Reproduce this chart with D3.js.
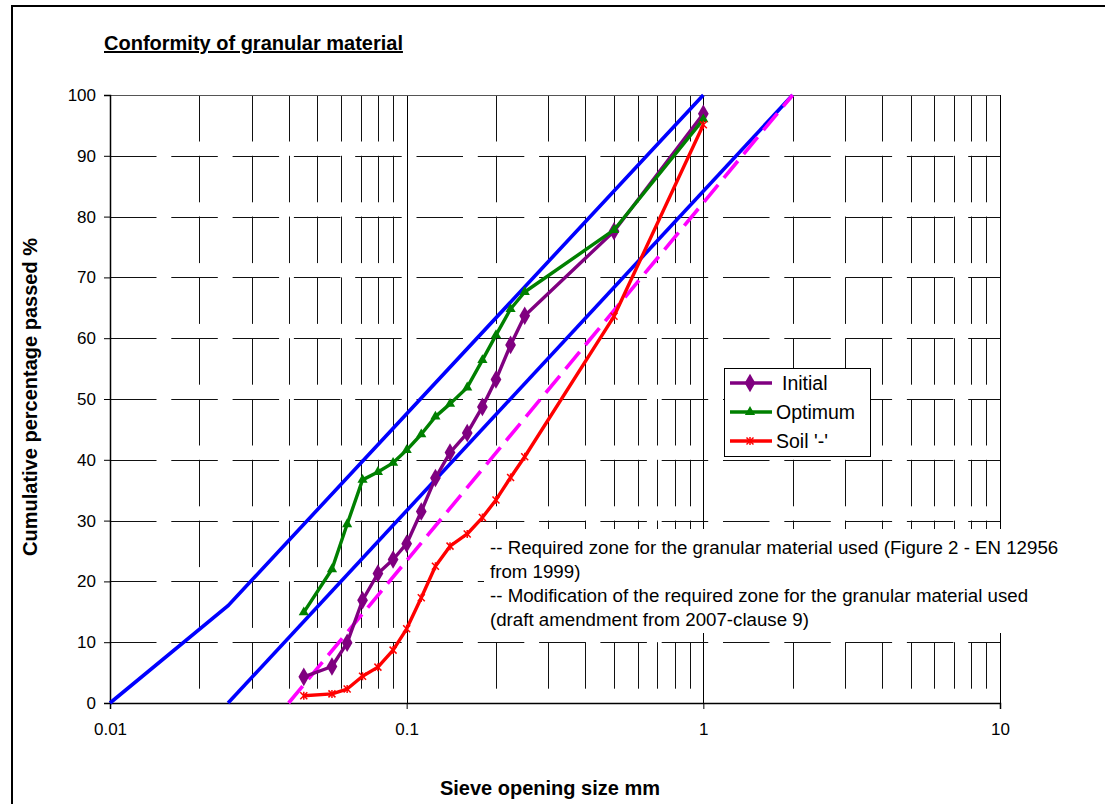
<!DOCTYPE html>
<html><head><meta charset="utf-8">
<script src="https://cdn.jsdelivr.net/npm/d3@7"></script>
<style>
html,body{margin:0;padding:0;background:#fff;}
svg{display:block;font-family:"Liberation Sans",Arial,sans-serif;}
</style></head>
<body>
<svg id="c" width="1105" height="804"></svg>
<script>
// ---- data ----
const sieves   = [0.045,0.056,0.063,0.071,0.08,0.09,0.1,0.112,0.125,0.14,0.16,0.18,0.2,0.224,0.25,0.5,1];
const initial  = [4.3,6.0,9.9,16.9,21.3,23.6,26.2,31.5,37.0,41.2,44.4,48.7,53.2,58.9,63.7,77.6,96.9];
const optimum  = [14.9,22.0,29.4,36.7,38.0,39.5,41.6,44.2,47.1,49.2,51.9,56.4,60.5,64.8,67.6,77.8,96.0];
const soil     = [1.2,1.5,2.3,4.4,5.9,8.7,12.2,17.3,22.5,25.8,27.8,30.5,33.4,37.1,40.5,63.6,95.1];
const seriesNames = ["Initial","Optimum","Soil '-'"];

const zoneUpperX = [0.01,0.025,1];   const zoneUpperY = [0,16,100];
const zoneLowerX = [0.025,2];        const zoneLowerY = [0,100];
const modZoneX   = [0.04,2];         const modZoneY   = [0,100];

const xTickLabels = ["0.01","0.1","1","10"];
const yTicks = [0,10,20,30,40,50,60,70,80,90,100];
const titleText = "Conformity of granular material";
const xTitle = "Sieve opening size mm";
const yTitle = "Cumulative percentage passed %";
const noteLines = ["-- Required zone for the granular material used (Figure 2 - EN 12956",
                   "from 1999)",
                   "-- Modification of the required zone for the granular material used",
                   "(draft amendment from 2007-clause 9)"];

// ---- layout ----
const svg = d3.select("#c");
const L=110, R=1000, T=95, B=703;
const x = d3.scaleLog().domain([0.01,10]).range([L,R]);
const y = d3.scaleLinear().domain([0,100]).range([B,T]);

// outer frame
svg.append("rect").attr("x",12).attr("y",6).attr("width",1200).attr("height",900)
  .attr("fill","none").attr("stroke","#000").attr("stroke-width",2);

// title
svg.append("text").attr("x",104).attr("y",50).attr("font-size",20).attr("font-weight","bold")
  .attr("text-decoration","underline").text(titleText);

// gridlines
const g = svg.append("g");
const minorX = [];
for (const dec of [0.01,0.1,1]) for (let k=2;k<=9;k++) minorX.push(+(dec*k).toPrecision(3));
const majorX = [0.1,1,10];
g.selectAll(".vmin").data(minorX).join("line")
  .attr("x1",d=>Math.round(x(d))+0.5).attr("x2",d=>Math.round(x(d))+0.5)
  .attr("y1",T).attr("y2",B)
  .attr("stroke","#111").attr("stroke-width",1).attr("stroke-dasharray","46.5 14.3");
g.selectAll(".vmaj").data(majorX).join("line")
  .attr("x1",d=>Math.round(x(d))+0.5).attr("x2",d=>Math.round(x(d))+0.5)
  .attr("y1",T).attr("y2",B).attr("stroke","#000").attr("stroke-width",1);
g.selectAll(".hgrid").data(yTicks.filter(v=>v>0&&v<100)).join("line")
  .attr("x1",L).attr("x2",R)
  .attr("y1",d=>Math.round(y(d))+0.5).attr("y2",d=>Math.round(y(d))+0.5)
  .attr("stroke","#111").attr("stroke-width",1).attr("stroke-dasharray","46.5 14.8");
g.append("line").attr("x1",L).attr("x2",R).attr("y1",Math.round(y(100))+0.5).attr("y2",Math.round(y(100))+0.5)
  .attr("stroke","#555").attr("stroke-width",1);

// axes
const yAxis = svg.append("g").attr("transform",`translate(${L},0)`)
  .call(d3.axisLeft(y).tickValues(yTicks).tickSize(6).tickPadding(8).tickFormat(d3.format("d")));
yAxis.select(".domain").attr("stroke","#000").attr("stroke-width",1.5);
yAxis.selectAll("text").attr("font-size",17).attr("font-family","Liberation Sans, Arial, sans-serif").attr("fill","#000");

const xAxis = svg.append("g").attr("transform",`translate(0,${B})`)
  .call(d3.axisBottom(x).tickValues([0.01,0.1,1,10]).tickSize(6).tickPadding(14)
        .tickFormat((d,i)=>xTickLabels[i]));
xAxis.select(".domain").attr("stroke","#000").attr("stroke-width",1.5);
xAxis.selectAll("text").attr("font-size",17).attr("font-family","Liberation Sans, Arial, sans-serif").attr("fill","#000");

// axis titles
svg.append("text").attr("x",550).attr("y",795).attr("text-anchor","middle")
  .attr("font-size",20).attr("font-weight","bold").text(xTitle);
svg.append("text").attr("transform","translate(37,397) rotate(-90)").attr("text-anchor","middle")
  .attr("font-size",20).attr("font-weight","bold").text(yTitle);

// zone lines
const line = d3.line().x(d=>x(d[0])).y(d=>y(d[1]));
const zip = (a,b)=>a.map((v,i)=>[v,b[i]]);
svg.append("path").attr("d",line(zip(zoneUpperX,zoneUpperY))).attr("fill","none")
  .attr("stroke","#0000FF").attr("stroke-width",3.6);
svg.append("path").attr("d",line(zip(zoneLowerX,zoneLowerY))).attr("fill","none")
  .attr("stroke","#0000FF").attr("stroke-width",3.6);
svg.append("path").attr("d",line(zip(modZoneX,modZoneY))).attr("fill","none")
  .attr("stroke","#FF00FF").attr("stroke-width",3.6).attr("stroke-dasharray","22 9");

// series
const colors = ["#800080","#008000","#FF0000"];
const values = [initial, optimum, soil];
const diamond = d3.symbol().type(d3.symbolDiamond).size(100);
const triangle = d3.symbol().type(d3.symbolTriangle).size(45);
function drawMarker(sel, idx, cx, cy){
  const c = colors[idx];
  if (idx===0) sel.append("path").attr("d",diamond()).attr("transform",`translate(${cx},${cy})`).attr("fill",c);
  else if (idx===1) sel.append("path").attr("d",triangle()).attr("transform",`translate(${cx},${cy})`).attr("fill",c);
  else {
    const s=3.5;
    const gg = sel.append("g").attr("transform",`translate(${cx},${cy})`).attr("stroke",c).attr("stroke-width",1.5);
    gg.append("line").attr("x1",-s).attr("y1",-s).attr("x2",s).attr("y2",s);
    gg.append("line").attr("x1",-s).attr("y1",s).attr("x2",s).attr("y2",-s);
    gg.append("line").attr("x1",0).attr("y1",-s-0.5).attr("x2",0).attr("y2",s+0.5);
  }
}
values.forEach((vals,i)=>{
  const pts = zip(sieves, vals);
  const sg = svg.append("g");
  sg.append("path").attr("d",line(pts)).attr("fill","none").attr("stroke",colors[i]).attr("stroke-width",3.4)
    .attr("stroke-linejoin","round");
  pts.forEach(p=>drawMarker(sg,i,x(p[0]),y(p[1])));
});

// legend
const lg = svg.append("g");
lg.append("rect").attr("x",724.5).attr("y",368.5).attr("width",146).attr("height",88)
  .attr("fill","#fff").attr("stroke","#000").attr("stroke-width",1);
const rowY=[383,412,441];
seriesNames.forEach((n,i)=>{
  lg.append("line").attr("x1",730).attr("x2",772).attr("y1",rowY[i]).attr("y2",rowY[i])
    .attr("stroke",colors[i]).attr("stroke-width",3.4);
  drawMarker(lg,i,750,rowY[i]);
  lg.append("text").attr("x",i===0?782:776).attr("y",rowY[i]+7).attr("font-size",19.5).text(n);
});

// note text box
const ng = svg.append("g");
ng.append("rect").attr("x",484).attr("y",529).attr("width",590).attr("height",104).attr("fill","#fff");
noteLines.forEach((t,i)=>{
  ng.append("text").attr("x",490).attr("y",554+i*24).attr("font-size",18.7).text(t);
});
</script>
</body></html>
